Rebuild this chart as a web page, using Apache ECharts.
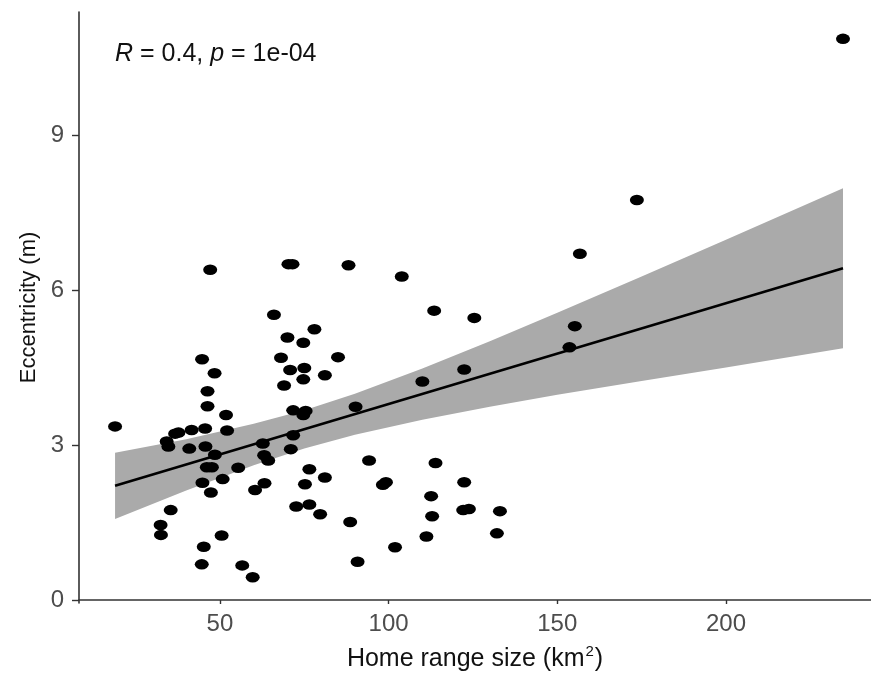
<!DOCTYPE html>
<html>
<head>
<meta charset="utf-8">
<script src="https://cdn.jsdelivr.net/npm/echarts@6/dist/echarts.min.js"></script>
<style>html,body{margin:0;padding:0;background:#fff}#c{width:871px;height:673px}</style>
</head>
<body>
<div id="c"></div>
<script>
// Home range size (km^2) and eccentricity (m) for each individual
const homeRange = [18.9,66.0,78.0,70.0,74.7,44.7,68.1,85.0,48.4,70.8,75.0,81.1,69.0,74.7,110.0,46.3,46.3,90.2,71.7,75.4,74.7,51.8,37.7,41.6,45.6,52.1,34.2,34.7,40.9,45.7,48.5,62.7,71.7,71.0,63.1,64.3,46.1,47.6,55.4,94.2,76.5,81.1,44.8,50.8,63.2,60.4,75.2,47.3,98.3,99.2,113.9,35.4,72.6,76.5,79.7,112.6,112.9,32.4,32.5,50.5,88.6,111.2,45.2,101.9,44.6,56.6,90.8,59.7,113.5,47.1,70.3,71.5,88.1,103.9,125.4,122.4,122.4,122.1,123.8,133.0,132.1,155.2,153.6,156.7,173.6,234.7,36.7];
const eccentricity = [3.36,5.52,5.24,5.08,4.98,4.66,4.69,4.70,4.39,4.45,4.49,4.35,4.15,4.27,4.23,4.04,3.75,3.74,3.67,3.66,3.58,3.58,3.24,3.29,3.32,3.28,3.07,2.97,2.93,2.97,2.81,3.03,3.19,2.92,2.80,2.70,2.57,2.57,2.56,2.70,2.53,2.37,2.27,2.34,2.26,2.13,2.24,2.08,2.23,2.28,2.65,1.74,1.81,1.85,1.66,2.01,1.62,1.45,1.26,1.25,1.51,1.23,1.03,1.02,0.69,0.67,0.74,0.44,5.60,6.39,6.50,6.50,6.48,6.26,5.46,4.46,2.28,1.74,1.76,1.72,1.29,5.30,4.89,6.70,7.74,10.86,3.22];
// Linear fit and its confidence band
const fitX = [18.9, 234.7];
const fitY = [2.21, 6.42];
const bandX = [18.9, 40, 60, 75, 90, 110, 130, 150, 175, 200, 234.7];
const bandLower = [1.57, 2.12, 2.61, 2.93, 3.20, 3.49, 3.74, 3.97, 4.24, 4.50, 4.87];
const bandUpper = [2.85, 3.11, 3.41, 3.67, 3.99, 4.48, 5.01, 5.56, 6.26, 6.97, 7.97];
// Axis ticks
const xTicks = [50, 100, 150, 200];
const yTicks = [0, 3, 6, 9];
const xTitle = 'Home range size (km';
const yTitle = 'Eccentricity (m)';
const statR = '0.4';
const statP = '1e-04';

const FONT = '"Liberation Sans", Arial, Helvetica, sans-serif';
const chart = echarts.init(document.getElementById('c'), null, {renderer: 'canvas'});
const points = homeRange.map((x, i) => [x, eccentricity[i]]);
const fitLine = fitX.map((x, i) => [x, fitY[i]]);

chart.setOption({
  animation: false,
  backgroundColor: '#ffffff',
  grid: {left: 79, right: 0, top: 12, bottom: 70, containLabel: false, outerBoundsMode: 'none'},
  xAxis: {
    type: 'value', min: 8.21, max: 243.0,
    splitLine: {show: false},
    axisLine: {show: true, lineStyle: {color: '#333333', width: 1.6}},
    axisTick: {show: true, length: 4, lineStyle: {color: '#333333', width: 1.4}, customValues: xTicks},
    axisLabel: {customValues: xTicks, color: '#4d4d4d', fontSize: 24, fontFamily: FONT, margin: 9},
    name: '{n|' + xTitle + '}{s|2}{n|)}',
    nameLocation: 'middle', nameGap: 41,
    nameTextStyle: {
      rich: {
        n: {fontSize: 25, color: '#111111', fontFamily: FONT, verticalAlign: 'bottom', lineHeight: 28},
        s: {fontSize: 15, color: '#111111', fontFamily: FONT, verticalAlign: 'top', padding: [0, 1, 13, 1], lineHeight: 28}
      }
    }
  },
  yAxis: {
    type: 'value', min: -0.058, max: 11.38,
    splitLine: {show: false},
    axisLine: {show: true, lineStyle: {color: '#333333', width: 1.6}},
    axisTick: {show: true, length: 7, lineStyle: {color: '#333333', width: 1.4}, customValues: yTicks},
    axisLabel: {customValues: yTicks, color: '#4d4d4d', fontSize: 24, fontFamily: FONT, margin: 15},
    name: yTitle, nameLocation: 'middle', nameGap: 37,
    nameTextStyle: {fontSize: 22, color: '#111111', fontFamily: FONT}
  },
  graphic: [{
    type: 'text', left: 115, top: 42,
    style: {
      text: '{i|R}{n| = ' + statR + ', }{i|p}{n| = ' + statP + '}',
      rich: {
        i: {fontSize: 25, fontStyle: 'italic', fill: '#111111', fontFamily: FONT},
        n: {fontSize: 25, fill: '#111111', fontFamily: FONT}
      }
    }
  }],
  series: [
    {
      type: 'custom', silent: true, z: 1,
      data: [0],
      renderItem: function (params, api) {
        const pts = [];
        bandX.forEach((x, i) => pts.push(api.coord([x, bandUpper[i]])));
        for (let i = bandX.length - 1; i >= 0; i--) pts.push(api.coord([bandX[i], bandLower[i]]));
        return {type: 'polygon', shape: {points: pts}, style: {fill: '#aaaaaa'}};
      }
    },
    {
      type: 'line', data: fitLine, z: 2, symbol: 'none', silent: true,
      lineStyle: {color: '#000000', width: 2.6}
    },
    {
      type: 'scatter', data: points, z: 3,
      symbol: 'circle', symbolSize: [14, 10.5],
      itemStyle: {color: '#000000', opacity: 1}
    }
  ]
});
</script>
</body>
</html>
